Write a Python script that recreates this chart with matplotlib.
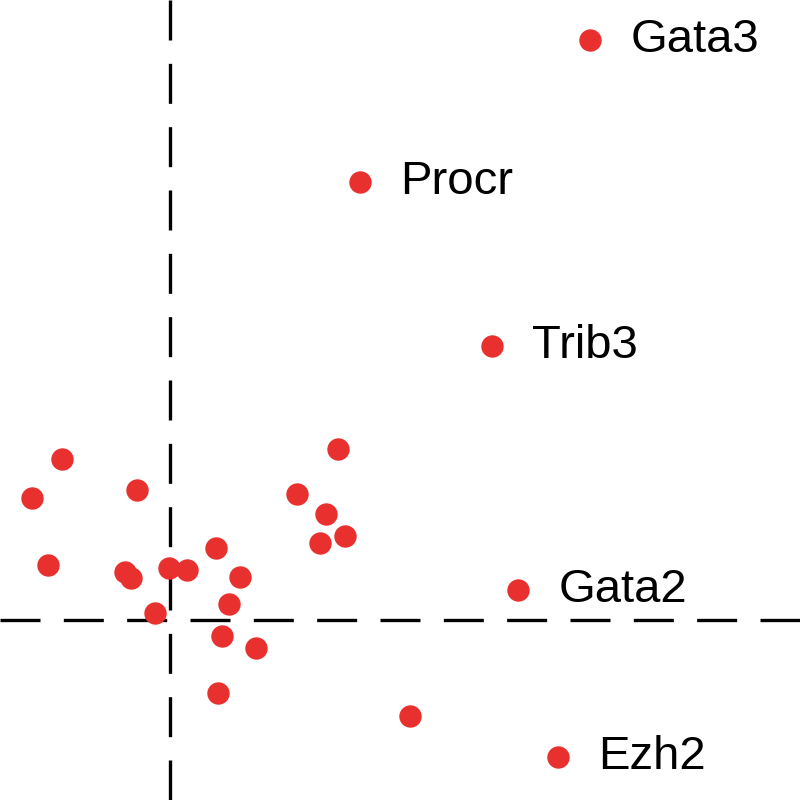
import matplotlib
matplotlib.use("Agg")
import matplotlib.pyplot as plt

# values (arbitrary units, origin at the dashed lines)
x_vals = [4.20, 1.90, 3.22, 3.48, 3.88,
          -1.08, -1.38, -0.33, -1.22, -0.45, -0.39, -0.01, 0.17, 0.46, 0.70,
          0.59, -0.15, 0.52, 0.86, 0.48, 1.68, 1.27, 1.56, 1.75, 1.50, 2.40]
y_vals = [5.80, 4.38, 2.74, 0.30, -1.37,
          1.61, 1.22, 1.30, 0.55, 0.48, 0.42, 0.52, 0.50, 0.72, 0.43,
          0.16, 0.07, -0.16, -0.28, -0.73, 1.71, 1.26, 1.06, 0.84, 0.77, -0.96]
labels = ["Gata3", "Procr", "Trib3", "Gata2", "Ezh2"]

fig = plt.figure(figsize=(8, 8), dpi=100)
ax = fig.add_axes([0, 0, 1, 1])
ax.set_xlim(-1.7, 6.3)
ax.set_ylim(-1.8, 6.2)
ax.axis("off")

ax.axvline(0, color="black", lw=2.4, dashes=(12, 7), zorder=1)
ax.axhline(0, color="black", lw=2.4, dashes=(12, 7), zorder=1)
ax.scatter(x_vals, y_vals, s=260, color="#e8312f", linewidths=0, zorder=2)

for i, name in enumerate(labels):
    ax.annotate(name, (x_vals[i], y_vals[i]), xytext=(29, 0), textcoords="offset points",
                va="center", ha="left", fontsize=34, family="Liberation Sans")

fig.savefig("out.png", dpi=100)
